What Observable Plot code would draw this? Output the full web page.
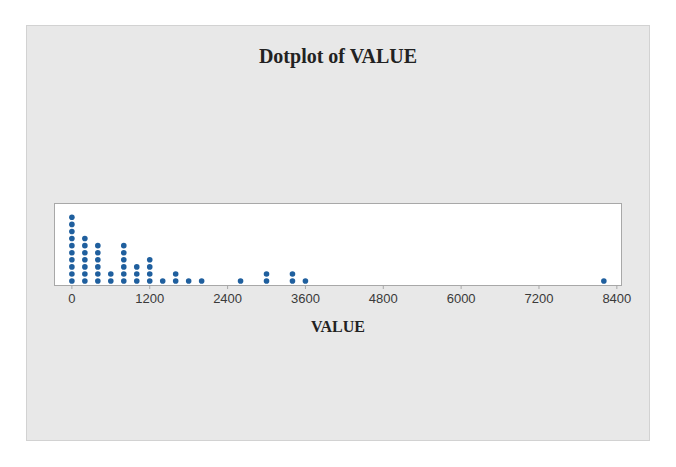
<!DOCTYPE html>
<html>
<head>
<meta charset="utf-8">
<script src="https://cdn.jsdelivr.net/npm/d3@7"></script>
<script src="https://cdn.jsdelivr.net/npm/@observablehq/plot@0.6"></script>
<style>
  html, body { margin: 0; padding: 0; background: #ffffff; }
  #wrap { position: relative; width: 676px; height: 467px; overflow: hidden; }
  #panel { position: absolute; left: 26px; top: 25px; width: 622px; height: 414px;
           background: #e8e8e8; border: 1px solid #d2d2d2; }
  #title { position: absolute; left: 0; width: 676px; top: 45px; text-align: center;
           font-family: "Liberation Serif", "Times New Roman", serif; font-weight: bold;
           font-size: 20px; color: #222; }
  #chart { position: absolute; left: 0; top: 0; }
  #chart svg { background: transparent; }
</style>
</head>
<body>
<div id="wrap">
  <div id="panel"></div>
  <div id="title">Dotplot of VALUE</div>
  <div id="chart"></div>
</div>
<script>
// Bin centers (VALUE) and number of stacked dots in each
const binValues = [0, 200, 400, 600, 800, 1000, 1200, 1400, 1600, 1800, 2000, 2600, 3000, 3400, 3600, 8200];
const binCounts = [10, 7, 6, 2, 6, 3, 4, 1, 2, 1, 1, 1, 2, 2, 1, 1];
const xTicks = [0, 1200, 2400, 3600, 4800, 6000, 7200, 8400];
const xLabel = "VALUE";

const dots = [];
binValues.forEach((v, i) => {
  for (let k = 1; k <= binCounts[i]; k++) dots.push({value: v, stack: k});
});

const chart = Plot.plot({
  width: 676,
  height: 467,
  marginLeft: 54,
  marginRight: 55,
  marginTop: 203,
  marginBottom: 182,
  style: {background: "transparent", fontFamily: "'Liberation Sans', Arial, sans-serif", fontSize: "13px", color: "#3a3a3a"},
  x: {domain: [-268, 8472]},
  y: {domain: [0.37, 11.95], axis: null},
  marks: [
    Plot.rect([0], {x1: -268, x2: 8472, y1: 0.37, y2: 11.95, fill: "white"}),
    Plot.frame({stroke: "#a8a8a8"}),
    Plot.axisX({ticks: xTicks, tickSize: 4, tickPadding: 4, stroke: "#a8a8a8", tickFormat: d => String(d), fill: "#3a3a3a", fontSize: 13, label: null}),
    Plot.text([xLabel], {frameAnchor: "bottom", dy: 41, text: d => d, fontFamily: "'Liberation Serif', 'Times New Roman', serif", fontWeight: "bold", fontSize: 16, fill: "#222", lineAnchor: "middle"}),
    Plot.dot(dots, {x: "value", y: "stack", r: 2.8, fill: "#1f5f9e", stroke: "none"})
  ]
});
document.getElementById("chart").appendChild(chart);
</script>
</body>
</html>
